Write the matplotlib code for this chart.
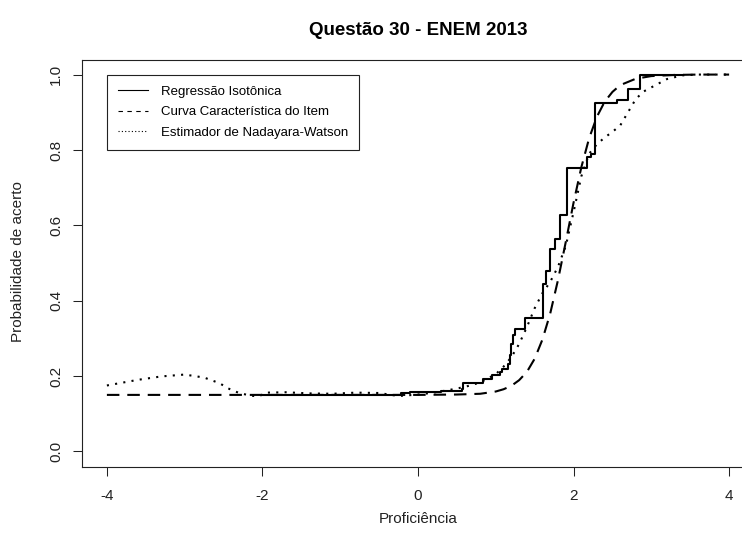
import matplotlib
matplotlib.use('Agg')
import matplotlib.pyplot as plt
from matplotlib.lines import Line2D

plt.rcParams['font.family'] = ['Liberation Sans', 'DejaVu Sans']

# Curva Caracteristica do Item (tracejada)
icc_x = [-4.0, -3.0, -2.0, -1.0, 0.0, 0.5, 0.8, 1.0, 1.1, 1.2, 1.3, 1.4, 1.5,
         1.6, 1.7, 1.8, 1.9, 2.0, 2.1, 2.2, 2.3, 2.4, 2.5, 2.6, 2.8, 3.0,
         3.3, 3.6, 4.0]
icc_y = [0.150, 0.150, 0.150, 0.150, 0.150, 0.151, 0.153, 0.159, 0.165, 0.174,
         0.189, 0.211, 0.246, 0.297, 0.366, 0.455, 0.556, 0.660, 0.754, 0.831,
         0.888, 0.928, 0.954, 0.972, 0.989, 0.996, 0.999, 1.0, 1.0]

# Estimador de Nadayara-Watson (pontilhada)
nw_x = [-4.0, -3.6, -3.3, -3.0, -2.75, -2.55, -2.45, -2.3, -2.15, -2.05, -1.95,
        -1.7, -1.4, -1.1, -0.8, -0.5, -0.25, 0.0, 0.2, 0.4, 0.6, 0.8, 1.0, 1.1,
        1.2, 1.3, 1.4, 1.5, 1.6, 1.7, 1.8, 1.9, 2.0, 2.1, 2.2, 2.3, 2.4, 2.5,
        2.6, 2.7, 2.8, 2.9, 3.0, 3.2, 3.4, 3.6, 4.0]
nw_y = [0.175, 0.190, 0.199, 0.204, 0.196, 0.181, 0.168, 0.155, 0.148, 0.146,
        0.156, 0.157, 0.154, 0.153, 0.156, 0.155, 0.147, 0.151, 0.156, 0.163,
        0.171, 0.183, 0.205, 0.225, 0.25, 0.285, 0.33, 0.38, 0.42, 0.45, 0.49,
        0.545, 0.635, 0.73, 0.79, 0.815, 0.833, 0.848, 0.865, 0.9, 0.935,
        0.955, 0.966, 0.988, 0.998, 1.0, 1.0]

# Regressao isotonica (degraus)
iso_x = [-2.01, -0.22, -0.1, 0.3, 0.56, 0.58, 0.84, 0.95, 1.05, 1.08, 1.16,
         1.18, 1.2, 1.22, 1.25, 1.38, 1.61, 1.65, 1.7, 1.76, 1.83, 1.92, 2.17,
         2.23, 2.28, 2.56, 2.7, 2.86, 3.41]
iso_y = [0.151, 0.155, 0.157, 0.160, 0.165, 0.181, 0.193, 0.202, 0.21, 0.22,
         0.233, 0.255, 0.286, 0.308, 0.326, 0.355, 0.445, 0.48, 0.538, 0.565,
         0.627, 0.753, 0.782, 0.79, 0.924, 0.932, 0.963, 1.0, 1.0]

x_ticks = [-4, -2, 0, 2, 4]
y_ticks = [0.0, 0.2, 0.4, 0.6, 0.8, 1.0]

W, H = 742, 540
fig = plt.figure(figsize=(W / 100, H / 100), dpi=100)
ax = fig.add_axes([82 / W, 1 - 466.5 / H, 672 / W, 407 / H])

ax.plot(iso_x, iso_y, color='black', lw=1.5, drawstyle='steps-post')
ax.plot(icc_x, icc_y, color='black', lw=1.5, dashes=(6, 3.8))
ax.plot(nw_x, nw_y, color='black', lw=1.5, dashes=(1, 3))

ax.set_xlim(-4.32, 4.32)
ax.set_ylim(-0.04, 1.04)
ax.set_xticks(x_ticks)
ax.set_xticklabels([str(t) for t in x_ticks])
ax.set_yticks(y_ticks)
ax.set_yticklabels(['%.1f' % t for t in y_ticks], rotation=90, va='center')
ax.tick_params(direction='out', length=6.5, width=0.75, labelsize=11,
               colors='#222222')
ax.tick_params(axis='x', pad=10)
ax.tick_params(axis='y', pad=7)
for s in ax.spines.values():
    s.set_linewidth(0.8)
    s.set_color('#222222')
# the reference is cut off before the right border of the box
ax.spines['right'].set_visible(False)

fig.text(418 / W, 1 - 31 / H, 'Questão 30 - ENEM 2013', ha='center',
         va='center', fontsize=13.5, fontweight='bold')
fig.text(418 / W, 1 - 519 / H, 'Proficiência', ha='center', va='center',
         fontsize=11, color='#222222')
fig.text(18 / W, 1 - 262 / H, 'Probabilidade de acerto', ha='center',
         va='center', rotation=90, fontsize=11, color='#222222')

handles = [
    Line2D([], [], color='black', lw=0.8),
    Line2D([], [], color='black', lw=0.8, dashes=(4, 4)),
    Line2D([], [], color='black', lw=0.8, dashes=(1, 2)),
]
labels = ['Regressão Isotônica', 'Curva Característica do Item',
          'Estimador de Nadayara-Watson']
leg = ax.legend(handles, labels, loc='upper left', bbox_to_anchor=(-4, 1.0),
                bbox_transform=ax.transData, borderaxespad=0, fancybox=False,
                edgecolor='#222222', framealpha=1, fontsize=9.5,
                handlelength=2.25, handletextpad=1.0, borderpad=0.85,
                labelspacing=0.62)
leg.get_frame().set_linewidth(0.8)

fig.savefig('out.png', dpi=100)
